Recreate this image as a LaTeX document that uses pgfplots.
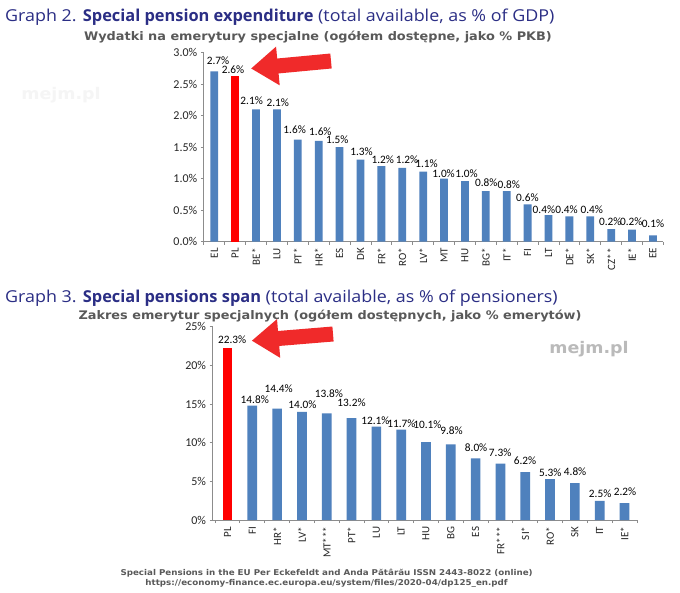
\documentclass[border=0pt]{standalone}
\usepackage{pgfplots}
\pgfplotsset{compat=1.18}
\usepackage{fontspec}
\setmainfont{Carlito}
\newfontfamily\osans{Open Sans}
\newfontfamily\osansw[FakeStretch=1.09]{Open Sans}
\newfontfamily\dvs[FakeStretch=1.09]{DejaVu Sans}
\usetikzlibrary{arrows.meta}
\definecolor{barblue}{HTML}{4F81BD}
\definecolor{barred}{HTML}{FF0000}
\definecolor{arrowred}{HTML}{F02A2A}
\definecolor{navy}{HTML}{2B2E85}
\definecolor{subgray}{HTML}{595959}
\definecolor{axgray}{HTML}{8C8C8C}

\pgfplotsset{
  mybars/.style={
    scale only axis, enlargelimits=false, clip=false,
    axis x line*=bottom, axis y line*=left,
    axis line style={axgray, line width=0.8pt},
    tick align=outside,
    major tick length=3pt, minor tick length=3pt,
    major x tick style={draw=none},
    minor x tick style={axgray, line width=0.8pt},
    ytick style={axgray, line width=0.8pt},
    xticklabel style={rotate=90, anchor=east, font=\fontsize{11}{11}\selectfont, text=black!85},
    yticklabel style={font=\fontsize{12}{12}\selectfont, text=black!85},
  },
  labs/.style={only marks, mark=text, text mark={}, 
    point meta=explicit symbolic,
    nodes near coords={\pgfplotspointmeta\%},
    nodes near coords style={anchor=center, font=\fontsize{11.3}{11.3}\selectfont, text=black, inner sep=0pt}},
}

\pgfplotstableread{
x y v
0.18 2.87 2.7
0.90 2.73 2.6
1.79 2.23 2.1
3.04 2.21 2.1
3.85 1.77 1.6
5.08 1.75 1.6
5.89 1.61 1.5
7.05 1.43 1.3
8.07 1.30 1.2
9.23 1.30 1.2
10.16 1.24 1.1
10.98 1.08 1.0
12.08 1.08 1.0
13.02 0.93 0.8
14.10 0.90 0.8
14.99 0.70 0.6
15.78 0.51 0.4
16.86 0.51 0.4
18.07 0.50 0.4
18.96 0.32 0.2
19.96 0.31 0.2
21.00 0.29 0.1
}\labtop

\pgfplotstableread{
x y v
0.19 23.28 22.3
1.10 15.53 14.8
2.06 17.04 14.4
3.02 14.97 14.0
4.09 16.40 13.8
5.00 15.23 13.2
5.96 12.82 12.1
7.01 12.52 11.7
8.06 12.34 10.1
9.03 11.52 9.8
10.02 9.42 8.0
10.99 8.77 7.3
11.99 7.65 6.2
13.01 6.14 5.3
14.01 6.23 4.8
15.02 3.48 2.5
16.02 3.64 2.2
}\labbot

\begin{document}
\begin{tikzpicture}
\useasboundingbox[fill=white] (0,0) rectangle (680pt,592pt);

% titles
\node[anchor=base west, inner sep=0, text=navy] at (5pt,570.3pt)
  {\fontsize{16.4}{18}\selectfont\osansw Graph 2. {\osans\bfseries Special pension expenditure} (total available, as \% of GDP)};
\node[anchor=base, inner sep=0, text=subgray] at (318pt,551.3pt)
  {\dvs\bfseries\fontsize{11.8}{12}\selectfont Wydatki na emerytury specjalne (ogółem dostępne, jako \% PKB)};
\node[anchor=base west, inner sep=0, text=navy] at (5pt,289.7pt)
  {\fontsize{16.4}{18}\selectfont\osansw Graph 3. {\osans\bfseries Special pensions span} (total available, as \% of pensioners)};
\node[anchor=base, inner sep=0, text=subgray] at (330pt,272pt)
  {\dvs\bfseries\fontsize{11.8}{12}\selectfont Zakres emerytur specjalnych (ogółem dostępnych, jako \% emerytów)};
\node[anchor=base, inner sep=0, text=subgray] at (326.6pt,17pt)
  {\dvs\bfseries\fontsize{8}{9}\selectfont Special Pensions in the EU Per Eckefeldt and Anda Pătârău ISSN 2443-8022 (online)};
\node[anchor=base, inner sep=0, text=subgray] at (326.6pt,6.7pt)
  {\dvs\bfseries\fontsize{8}{9}\selectfont https://economy-finance.ec.europa.eu/system/files/2020-04/dp125\_en.pdf};
\node[inner sep=0, text=black!4] at (61pt,497pt) {\dvs\bfseries\fontsize{16}{16}\selectfont mejm.pl};
\node[inner sep=0, text=black!27] at (589pt,242.7pt) {\dvs\bfseries\fontsize{16}{16}\selectfont mejm.pl};

% top chart
\begin{axis}[mybars, at={(203.8pt,350.3pt)}, anchor=south west,
  width=459.6pt, height=189.2pt,
  xmin=-0.5, xmax=21.5, ymin=0, ymax=3,
  xtick={0,...,21},
  xticklabels={EL,PL,BE*,LU,PT*,HR*,ES,DK,FR*,RO*,LV*,MT,HU,BG*,IT*,FI,LT,DE*,SK*,CZ**,IE*,EE},
  minor xtick={-0.5,0.5,...,21.5},
  ytick={0,0.5,1,1.5,2,2.5,3},
  yticklabels={0.0\%,0.5\%,1.0\%,1.5\%,2.0\%,2.5\%,3.0\%},
]
\addplot[ybar, bar width=7.8pt, fill=barblue, draw=none] coordinates {
(0,2.70) (2,2.10) (3,2.10) (4,1.62) (5,1.60) (6,1.50) (7,1.30) (8,1.20) (9,1.17) (10,1.11)
(11,1.00) (12,0.96) (13,0.80) (14,0.80) (15,0.59) (16,0.42) (17,0.40) (18,0.40) (19,0.20) (20,0.19) (21,0.10)};
\addplot[ybar, bar width=7.8pt, fill=barred, draw=none] coordinates {(1,2.62)};
\addplot[labs] table[x=x, y=y, meta=v] {\labtop};
\end{axis}

% bottom chart
\begin{axis}[mybars, at={(212.6pt,71.8pt)}, anchor=south west,
  width=424.3pt, height=193.5pt,
  xmin=-0.6, xmax=16.5, ymin=0, ymax=25,
  xtick={0,...,16},
  xticklabels={PL,FI,HR*,LV*,MT***,PT*,LU,LT,HU,BG,ES,FR***,SI*,RO*,SK,IT,IE*},
  minor xtick={-0.5,0.5,...,16.5},
  ytick={0,5,10,15,20,25},
  yticklabels={0\%,5\%,10\%,15\%,20\%,25\%},
]
\addplot[ybar, bar width=9.7pt, fill=barblue, draw=none] coordinates {
(1,14.8) (2,14.4) (3,14.0) (4,13.8) (5,13.2) (6,12.1) (7,11.7) (8,10.1) (9,9.8) (10,8.0)
(11,7.3) (12,6.2) (13,5.3) (14,4.8) (15,2.5) (16,2.2)};
\addplot[ybar, bar width=9.7pt, fill=barred, draw=none] coordinates {(0,22.3)};
\addplot[labs] table[x=x, y=y, meta=v] {\labbot};
\end{axis}

% arrows
\draw[arrowred, line width=15pt, -{Triangle[length=27pt, width=37pt]}] (331pt,531pt) -- (251pt,523.5pt);
\draw[arrowred, line width=15pt, -{Triangle[length=27pt, width=37pt]}] (333pt,258pt) -- (251.7pt,251.3pt);
\end{tikzpicture}
\end{document}
